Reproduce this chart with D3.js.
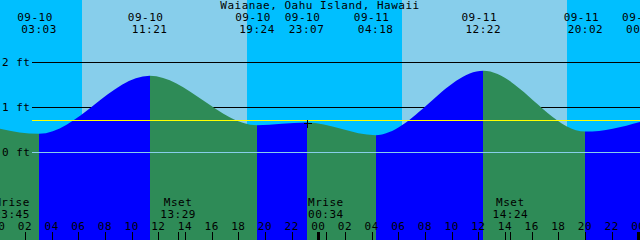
<!DOCTYPE html>
<html>
<head>
<script src="https://d3js.org/d3.v7.min.js"></script>
<style>
body {margin: 0; background: white;}
svg text {font-family: "DejaVu Sans Mono", monospace; font-size: 11px; letter-spacing: 0.5px; fill: black;}
</style>
</head>
<body>
<svg width="640" height="240"></svg>
<script>
// tide events (first and last lie just outside the window)
var tideTimes = ["09-09 22:15", "09-10 03:03", "09-10 11:21", "09-10 19:24", "09-10 23:07",
                 "09-11 04:18", "09-11 12:22", "09-11 20:02", "09-12 00:25"];
var tideFeet = [0.67, 0.41, 1.70, 0.60, 0.66, 0.38, 1.81, 0.46, 0.70];
var sunTimes = ["09-10 06:16", "09-10 18:39", "09-11 06:16", "09-11 18:39"];
var moonTimes = ["09-09 23:45", "09-10 13:29", "09-11 00:34", "09-11 14:24"];
var moonKinds = ["Mrise", "Mset", "Mrise", "Mset"];
var footTicks = [0, 1, 2];
var markLevel = 0.71;
var markTime = "09-10 23:07";
var title = "Waianae, Oahu Island, Hawaii";

var parse = d3.utcParse("%m-%d %H:%M");
var t0 = parse("09-10 00:00"), t1 = parse("09-12 00:00");
var W = 640, H = 240;

var x = d3.scaleUtc().domain([t0, t1]).range([-1.67, 638.33]);
var y = d3.scaleLinear().domain([0, 2]).range([152.3, 62.3]);
function px(t) { return Math.round(x(t)); }

var svg = d3.select("svg");

// sky: night / day bands
var edges = [t0].concat(sunTimes.map(parse)).concat([t1]);
svg.append("g").selectAll("rect").data(d3.pairs(edges)).enter().append("rect")
  .attr("x", function(d, i) { return i == 0 ? 0 : px(d[0]); })
  .attr("width", function(d, i) { return (i == edges.length - 2 ? W : px(d[1])) - (i == 0 ? 0 : px(d[0])); })
  .attr("y", 0).attr("height", H)
  .attr("fill", function(d, i) { return i % 2 == 0 ? "#00bfff" : "#87ceeb"; })
  .attr("shape-rendering", "crispEdges");

// foot lines (behind water)
svg.append("g").selectAll("line").data(footTicks.filter(function(f) { return f > 0; })).enter().append("line")
  .attr("x1", 32).attr("x2", W)
  .attr("y1", function(d) { return Math.round(y(d)) + 0.5; })
  .attr("y2", function(d) { return Math.round(y(d)) + 0.5; })
  .attr("stroke", "black").attr("shape-rendering", "crispEdges");

// water
var tide = tideTimes.map(function(t, i) { return {t: parse(t), h: tideFeet[i]}; });
var area = d3.area()
  .x(function(d) { return x(d.t); })
  .y0(H)
  .y1(function(d) { return y(d.h); })
  .curve(d3.curveMonotoneX);
svg.append("clipPath").attr("id", "water").append("path").attr("d", area(tide));
svg.append("g").attr("clip-path", "url(#water)")
  .selectAll("rect").data(d3.pairs(tide)).enter().append("rect")
  .attr("x", function(d) { return px(d[0].t); })
  .attr("width", function(d) { return px(d[1].t) - px(d[0].t); })
  .attr("y", 0).attr("height", H)
  .attr("fill", function(d) { return d[1].h > d[0].h ? "#0000ff" : "#2e8b57"; })
  .attr("shape-rendering", "crispEdges");

// zero line and mark level
svg.append("line")
  .attr("x1", 32).attr("x2", W)
  .attr("y1", Math.round(y(0)) + 0.5).attr("y2", Math.round(y(0)) + 0.5)
  .attr("stroke", "#87ceeb").attr("shape-rendering", "crispEdges");
svg.append("line")
  .attr("x1", 32).attr("x2", W)
  .attr("y1", Math.round(y(markLevel)) + 0.5).attr("y2", Math.round(y(markLevel)) + 0.5)
  .attr("stroke", "#ffff00").attr("shape-rendering", "crispEdges");

// foot labels
svg.append("g").selectAll("text").data(footTicks).enter().append("text")
  .attr("x", 2)
  .attr("y", function(d) { return y(d) + 4; })
  .text(function(d) { return d + " ft"; });

// title and tide event labels
svg.append("text").attr("x", 320).attr("y", 9).attr("text-anchor", "middle").text(title);
var shown = tide.filter(function(d) { return x(d.t) >= 0; });
var tideLabels = svg.append("g").selectAll("g").data(shown).enter().append("g");
tideLabels.append("text")
  .attr("x", function(d) { return x(d.t) - 4; }).attr("y", 21)
  .attr("text-anchor", "middle")
  .text(function(d) { return d3.utcFormat("%m-%d")(d.t); });
tideLabels.append("text")
  .attr("x", function(d) { return x(d.t); }).attr("y", 33)
  .attr("text-anchor", "middle")
  .text(function(d) { return d3.utcFormat("%H:%M")(d.t); });

// cross at the marked tide
var mt = parse(markTime);
var mh = tideFeet[tideTimes.indexOf(markTime)];
var mx = px(mt) + 0.5, my = Math.round(y(mh)) + 0.5;
svg.append("path")
  .attr("d", "M" + (mx - 4) + "," + my + "H" + (mx + 4) + "M" + mx + "," + (my - 4) + "V" + (my + 4))
  .attr("stroke", "black").attr("shape-rendering", "crispEdges");

// hour ticks along the bottom
var hours = x.ticks(d3.utcHour.every(2));
svg.append("g").selectAll("text").data(hours).enter().append("text")
  .attr("x", function(d) { return x(d); }).attr("y", 230)
  .attr("text-anchor", "middle")
  .text(function(d) { return d3.utcFormat("%H")(d); });
svg.append("g").selectAll("rect").data(hours).enter().append("rect")
  .attr("x", function(d) { return px(d) - (d.getUTCHours() == 0 ? 1 : 0); })
  .attr("width", function(d) { return d.getUTCHours() == 0 ? 3 : 1; })
  .attr("y", 232).attr("height", 8)
  .attr("fill", "black");

// moon rise / set
var moon = moonTimes.map(function(t, i) { return {t: parse(t), k: moonKinds[i]}; });
svg.append("g").selectAll("rect").data(moon).enter().append("rect")
  .attr("x", function(d) { return px(d.t); })
  .attr("width", 1).attr("y", 232).attr("height", 8)
  .attr("fill", "black");
var moonLabels = svg.append("g").selectAll("g").data(moon).enter().append("g");
moonLabels.append("text")
  .attr("x", function(d) { return Math.max(x(d.t), 12); }).attr("y", 206)
  .attr("text-anchor", "middle")
  .text(function(d) { return d.k; });
moonLabels.append("text")
  .attr("x", function(d) { return Math.max(x(d.t), 12); }).attr("y", 218)
  .attr("text-anchor", "middle")
  .text(function(d) { return d3.utcFormat("%H:%M")(d.t); });
</script>
</body>
</html>
